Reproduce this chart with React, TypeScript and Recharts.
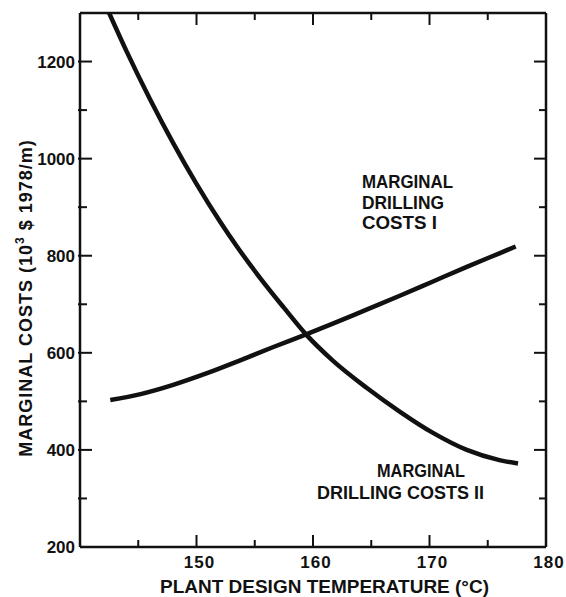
import { LineChart, Line, XAxis, YAxis } from 'recharts';

// curve I: rises with temperature
const tempI = [142.6, 145.2, 148.0, 150.9, 153.7, 156.6, 159.3, 161.7, 164.6, 167.5, 170.3, 173.2, 176.0, 177.4];
const costI = [503, 515, 534, 558, 584, 612, 637, 660, 689, 718, 747, 777, 805, 819];

// curve II: falls with temperature
const tempII = [142.5, 144.0, 146.0, 148.0, 150.0, 152.0, 153.5, 155.5, 157.5, 159.4, 161.7, 164.6, 167.5, 170.3, 173.2, 176.0, 177.6];
const costII = [1300, 1221, 1123, 1032, 948, 871, 818, 753, 693, 638, 584, 528, 478, 435, 400, 379, 372];

const xMajor = [150, 160, 170, 180];
const xMinor = [145, 155, 165, 175];
const yMajor = [200, 400, 600, 800, 1000, 1200];
const yMinor = [300, 500, 700, 900, 1100];

const xTicks = [...xMajor, ...xMinor].sort((a, b) => a - b);
const yTicks = [...yMajor, ...yMinor].sort((a, b) => a - b);

const seriesI = tempI.map((t, i) => ({ t, v: costI[i] }));
const seriesII = tempII.map((t, i) => ({ t, v: costII[i] }));

const FONT = "'Liberation Sans', Arial, sans-serif";
const INK = '#111';
const MAJOR = 12;
const MINOR = 7;

const BottomTick = (props: any) => {
  const { x, y, payload } = props;
  const v = payload.value;
  const major = xMajor.includes(v);
  return (
    <g>
      {v < 180 && (
        <line x1={x} x2={x} y1={y} y2={y - (major ? MAJOR : MINOR)} stroke={INK} strokeWidth={2} />
      )}
      {major && (
        <text x={x + 3} y={y + 21} textAnchor="middle" fontFamily={FONT} fontWeight={700} fontSize={17} letterSpacing={1} fill={INK}>
          {v}
        </text>
      )}
    </g>
  );
};

const TopTick = (props: any) => {
  const { x, y, payload } = props;
  const v = payload.value;
  if (v >= 180) return <g />;
  const major = xMajor.includes(v);
  return <line x1={x} x2={x} y1={y} y2={y + (major ? MAJOR : MINOR)} stroke={INK} strokeWidth={2} />;
};

const LeftTick = (props: any) => {
  const { x, y, payload } = props;
  const v = payload.value;
  const major = yMajor.includes(v);
  return (
    <g>
      {v > 200 && (
        <line x1={x - 2} x2={x + (major ? MAJOR : MINOR)} y1={y} y2={y} stroke={INK} strokeWidth={2} />
      )}
      {major && (
        <text x={x - 5} y={y + 6} textAnchor="end" fontFamily={FONT} fontWeight={700} fontSize={17} fill={INK}>
          {v}
        </text>
      )}
    </g>
  );
};

const RightTick = (props: any) => {
  const { x, y, payload } = props;
  const v = payload.value;
  if (v <= 200) return <g />;
  const major = yMajor.includes(v);
  return <line x1={x} x2={x - (major ? MAJOR : MINOR)} y1={y} y2={y} stroke={INK} strokeWidth={2} />;
};

const labelStyle = { fontFamily: FONT, fontWeight: 700, fontSize: 18, fill: INK };

export default function App() {
  return (
    <div style={{ position: 'absolute', left: 0, top: 0, width: 566, height: 597, background: '#fff' }}>
      <LineChart width={566} height={597} margin={{ top: 12, right: 19, bottom: 49, left: 79 }}>
        <XAxis
          dataKey="t"
          type="number"
          domain={[140, 180]}
          ticks={xTicks}
          interval={0}
          allowDataOverflow
          height={1}
          tickSize={0}
          tickMargin={0}
          tick={BottomTick}
          axisLine={{ stroke: INK, strokeWidth: 2.5 }}
        />
        <XAxis
          xAxisId="top"
          orientation="top"
          dataKey="t"
          type="number"
          domain={[140, 180]}
          ticks={xTicks}
          interval={0}
          allowDataOverflow
          height={1}
          tickSize={0}
          tickMargin={0}
          tick={TopTick}
          axisLine={{ stroke: INK, strokeWidth: 2.5 }}
        />
        <YAxis
          type="number"
          domain={[200, 1300]}
          ticks={yTicks}
          interval={0}
          allowDataOverflow
          width={1}
          tickSize={0}
          tickMargin={0}
          tick={LeftTick}
          axisLine={{ stroke: INK, strokeWidth: 2.5 }}
        />
        <YAxis
          yAxisId="right"
          orientation="right"
          type="number"
          domain={[200, 1300]}
          ticks={yTicks}
          interval={0}
          allowDataOverflow
          width={1}
          tickSize={0}
          tickMargin={0}
          tick={RightTick}
          axisLine={{ stroke: INK, strokeWidth: 2.5 }}
        />
        <Line
          data={seriesI}
          dataKey="v"
          type="monotoneX"
          stroke={INK}
          strokeWidth={4.5}
          dot={false}
          activeDot={false}
          isAnimationActive={false}
        />
        <Line
          data={seriesII}
          dataKey="v"
          type="monotoneX"
          stroke={INK}
          strokeWidth={4.5}
          dot={false}
          activeDot={false}
          isAnimationActive={false}
        />

        <text x={362} y={188} textLength={91} lengthAdjust="spacingAndGlyphs" {...labelStyle}>MARGINAL</text>
        <text x={362} y={209} textLength={82} lengthAdjust="spacingAndGlyphs" {...labelStyle}>DRILLING</text>
        <text x={362} y={229} textLength={75} lengthAdjust="spacingAndGlyphs" {...labelStyle}>COSTS I</text>

        <text x={377} y={477} textLength={88} lengthAdjust="spacingAndGlyphs" {...labelStyle}>MARGINAL</text>
        <text x={317} y={499} textLength={167} lengthAdjust="spacingAndGlyphs" {...labelStyle}>DRILLING COSTS II</text>

        <text x={160} y={593} textLength={329} lengthAdjust="spacingAndGlyphs" {...labelStyle}>
          PLANT DESIGN TEMPERATURE (°C)
        </text>
        <text transform="translate(32,298) rotate(-90)" textAnchor="middle" letterSpacing={1} {...labelStyle}>
          MARGINAL COSTS (10<tspan dy={-8} fontSize={12}>3</tspan>
          <tspan dy={8}> $ 1978/m)</tspan>
        </text>
      </LineChart>
    </div>
  );
}
